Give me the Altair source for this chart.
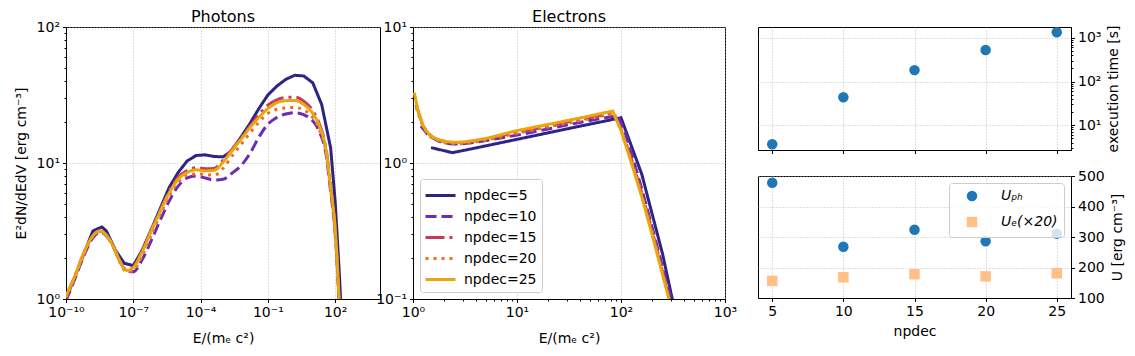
import altair as alt
import pandas as pd

FONT = "DejaVu Sans"

# ---------------- data ----------------
series_names = ["npdec=5", "npdec=10", "npdec=15", "npdec=20", "npdec=25"]
series_colors = ["#2d2586", "#6a2db5", "#c53a5d", "#f56c1e", "#e8a70f"]
series_dashes = [[1, 0], [11, 5], [19, 5, 3, 5], [3, 5], [1, 0]]

# Photons: log10(E/mec2) and log10(E^2 dN/dEdV)
ph5_logE = [-10.0, -9.4, -8.8, -8.6, -8.4, -8.2, -7.8, -7.4, -7.0, -6.6, -6.2, -5.8,
            -5.4, -5.0, -4.6, -4.2, -3.8, -3.4, -3.0, -2.6, -2.2, -1.8, -1.4, -1.0,
            -0.6, -0.2, 0.2, 0.6, 1.0, 1.4, 1.8, 2.0, 2.2, 2.4]
ph5_logy = [0.0, 0.25, 0.50, 0.515, 0.53, 0.5, 0.36, 0.262, 0.245, 0.36, 0.51, 0.665,
            0.82, 0.93, 1.015, 1.055, 1.06, 1.048, 1.045, 1.09, 1.19, 1.29, 1.40, 1.50,
            1.565, 1.615, 1.645, 1.64, 1.59, 1.43, 1.11, 0.72, 0.15, -0.6]

ph_logE = [-10.0, -9.6, -9.2, -8.8, -8.5, -8.2, -7.9, -7.6, -7.3, -7.0, -6.6, -6.2,
           -5.8, -5.4, -5.0, -4.6, -4.2, -3.8, -3.4, -3.0, -2.6, -2.2, -1.8, -1.4,
           -1.0, -0.6, -0.2, 0.2, 0.6, 1.0, 1.3, 1.6, 1.8, 2.0, 2.1, 2.2]
ph10_logy = [-0.01, 0.15, 0.32, 0.45, 0.49, 0.465, 0.39, 0.28, 0.205, 0.2, 0.29, 0.43,
             0.58, 0.72, 0.83, 0.89, 0.905, 0.89, 0.875, 0.88, 0.925, 0.98, 1.07, 1.19,
             1.285, 1.335, 1.36, 1.37, 1.355, 1.31, 1.23, 1.06, 0.79, 0.49, 0.23, -0.1]
ph15_logy = [0.02, 0.17, 0.34, 0.465, 0.50, 0.47, 0.39, 0.28, 0.215, 0.235, 0.355, 0.505,
             0.65, 0.79, 0.895, 0.945, 0.965, 0.958, 0.96, 1.02, 1.1, 1.185, 1.27, 1.355,
             1.425, 1.465, 1.482, 1.484, 1.455, 1.385, 1.285, 1.10, 0.83, 0.52, 0.25, -0.1]
ph20_logy = [0.01, 0.16, 0.33, 0.46, 0.495, 0.465, 0.385, 0.27, 0.2, 0.21, 0.32, 0.47,
             0.62, 0.76, 0.86, 0.91, 0.92, 0.915, 0.91, 0.96, 1.05, 1.135, 1.22, 1.30,
             1.365, 1.395, 1.405, 1.408, 1.39, 1.335, 1.245, 1.07, 0.80, 0.50, 0.24, -0.1]
ph25_logy = [0.02, 0.17, 0.34, 0.465, 0.50, 0.47, 0.39, 0.28, 0.21, 0.23, 0.35, 0.50,
             0.645, 0.78, 0.88, 0.93, 0.95, 0.942, 0.946, 1.005, 1.09, 1.175, 1.26, 1.335,
             1.40, 1.443, 1.458, 1.46, 1.43, 1.365, 1.27, 1.09, 0.82, 0.52, 0.25, -0.1]

# Electrons: log10(E/mec2) and log10(E^2 dN/dEdV)
el5_logE = [0.173, 0.38, 0.6, 0.8, 1.0, 1.2, 1.4, 1.6, 1.8, 2.0, 2.2, 2.4, 2.6]
el5_logy = [0.113, 0.076, 0.11, 0.142, 0.174, 0.206, 0.238, 0.27, 0.301, 0.333, -0.083, -0.67, -1.38]

el10_logE = [0.077, 0.15, 0.25, 0.35, 0.45, 0.6, 0.8, 1.0, 1.3, 1.6, 1.97, 2.05, 2.16, 2.25, 2.35, 2.48, 2.55]
el10_logy = [0.272, 0.2, 0.16, 0.142, 0.14, 0.152, 0.178, 0.205, 0.25, 0.298, 0.35, 0.2, -0.083, -0.33, -0.62, -1.0, -1.2]

el_mid_logE = [0.03, 0.07, 0.1, 0.15, 0.2, 0.27, 0.33, 0.4, 0.5, 0.7, 1.0, 1.3, 1.6, 1.93, 2.0, 2.1, 2.2, 2.3, 2.4, 2.5]
el15_logy = [0.43, 0.33, 0.27, 0.215, 0.185, 0.165, 0.155, 0.15, 0.152, 0.175, 0.225, 0.272, 0.318, 0.37, 0.25, 0.03, -0.22, -0.5, -0.8, -1.1]
el20_logy = [0.41, 0.32, 0.26, 0.205, 0.175, 0.155, 0.145, 0.14, 0.143, 0.167, 0.218, 0.265, 0.31, 0.362, 0.24, 0.02, -0.23, -0.51, -0.81, -1.11]

el25_logE = [0.0125, 0.05, 0.1, 0.15, 0.2, 0.25, 0.3, 0.38, 0.5, 0.7, 1.0, 1.3, 1.6, 1.92, 2.0, 2.1, 2.2, 2.3, 2.4, 2.5]
el25_logy = [0.517, 0.38, 0.27, 0.215, 0.185, 0.17, 0.16, 0.152, 0.155, 0.18, 0.238, 0.284, 0.33, 0.382, 0.24, 0.0, -0.25, -0.53, -0.82, -1.12]

# Right panels
npdec_vals = [5, 10, 15, 20, 25]
exec_time = [3.67, 43.6, 182, 524, 1330]
U_ph = [478, 268, 324, 286, 311]
U_e20 = [156, 168, 178, 171, 181]
U_labels = ["U\u209a\u2095", "U\u2091(\u00d720)"]
U_colors = ["#1f77b4", "#ffbf86"]


def frame(name, logE, logy):
    return pd.DataFrame({"series": name, "E": [10.0 ** v for v in logE], "y": [10.0 ** v for v in logy]})


ph_df = pd.concat([
    frame(series_names[0], ph5_logE, ph5_logy),
    frame(series_names[1], ph_logE, ph10_logy),
    frame(series_names[2], ph_logE, ph15_logy),
    frame(series_names[3], ph_logE, ph20_logy),
    frame(series_names[4], ph_logE, ph25_logy),
])
el_df = pd.concat([
    frame(series_names[0], el5_logE, el5_logy),
    frame(series_names[1], el10_logE, el10_logy),
    frame(series_names[2], el_mid_logE, el15_logy),
    frame(series_names[3], el_mid_logE, el20_logy),
    frame(series_names[4], el25_logE, el25_logy),
])
time_df = pd.DataFrame({"npdec": npdec_vals, "t": exec_time})
u_df = pd.concat([
    pd.DataFrame({"npdec": npdec_vals, "U": U_ph, "kind": U_labels[0]}),
    pd.DataFrame({"npdec": npdec_vals, "U": U_e20, "kind": U_labels[1]}),
])

# ---------------- axis helpers ----------------
SUP = str.maketrans("0123456789-", "\u2070\u00b9\u00b2\u00b3\u2074\u2075\u2076\u2077\u2078\u2079\u207b")


def sup(n):
    return str(n).translate(SUP)


IS_MAJOR = "abs(log(datum.value)/LN10 - round(log(datum.value)/LN10)) < 0.001"


def log_axis(major_exps, lo, hi, title, minors=True, **kw):
    majors = [10.0 ** e for e in major_exps]
    vals = list(majors)
    if minors:
        for k in range(-12, 5):
            for m in range(2, 10):
                v = m * 10.0 ** k
                if lo * 0.9999 <= v <= hi * 1.0001:
                    vals.append(v)
    vals = sorted(vals)
    expr = ""
    for e in major_exps:
        expr += f"abs(log(datum.value)/LN10 - ({e})) < 0.001 ? '10{sup(e)}' : "
    expr += "''"
    return alt.Axis(
        values=vals, labelExpr=expr, title=title,
        tickSize={"condition": {"test": IS_MAJOR, "value": 3.5}, "value": 2},
        gridOpacity={"condition": {"test": IS_MAJOR, "value": 1}, "value": 0},
        **kw,
    )


color_scale = alt.Scale(domain=series_names, range=series_colors)
dash_scale = alt.Scale(domain=series_names, range=series_dashes)

# ---------------- photons ----------------
ph_base = alt.Chart(ph_df).encode(
    x=alt.X("E:Q", scale=alt.Scale(type="log", domain=[1e-10, 1e4], nice=False),
            axis=log_axis([-10, -7, -4, -1, 2], 1e-10, 1e4, "E/(m\u2091 c\u00b2)", minors=False,
                          titlePadding=12)),
    y=alt.Y("y:Q", scale=alt.Scale(type="log", domain=[1, 100], nice=False),
            axis=log_axis([0, 1, 2], 1, 100, "E\u00b2dN/dEdV [erg cm\u207b\u00b3]", titlePadding=8)),
    color=alt.Color("series:N", scale=color_scale, legend=None),
    strokeDash=alt.StrokeDash("series:N", scale=dash_scale, legend=None),
)
photons = alt.layer(
    ph_base.transform_filter(alt.datum.series == series_names[0]).mark_line(
        strokeWidth=3, clip=True, interpolate="linear", strokeCap="butt"),
    ph_base.transform_filter(alt.datum.series != series_names[0]).mark_line(
        strokeWidth=3, clip=True, interpolate="monotone", strokeCap="butt"),
).properties(width=314, height=272, title="Photons")

# ---------------- electrons ----------------
leg_kw = dict(orient="bottom-left", offset=7, title=None, labelFontSize=14, labelFont=FONT,
              symbolType="M-1.5,0H1.5", symbolSize=400, symbolStrokeWidth=3, padding=5,
              symbolOffset=4, rowPadding=2, strokeColor="#cccccc", fillColor="white",
              cornerRadius=3, labelOffset=12, labelColor="black")
electrons = alt.Chart(el_df).mark_line(strokeWidth=3, clip=True, strokeCap="butt").encode(
    x=alt.X("E:Q", scale=alt.Scale(type="log", domain=[1, 1000], nice=False),
            axis=log_axis([0, 1, 2, 3], 1, 1000, "E/(m\u2091 c\u00b2)", titlePadding=12)),
    y=alt.Y("y:Q", scale=alt.Scale(type="log", domain=[0.1, 10], nice=False),
            axis=log_axis([-1, 0, 1], 0.1, 10, None)),
    color=alt.Color("series:N", scale=color_scale, legend=alt.Legend(**leg_kw)),
    strokeDash=alt.StrokeDash("series:N", scale=dash_scale, legend=alt.Legend(**leg_kw)),
).properties(width=312, height=272, title="Electrons")

# ---------------- right panels ----------------
x_right = alt.Scale(domain=[4, 26], nice=False, zero=False)
time_chart = alt.Chart(time_df).mark_point(filled=True, size=110, opacity=1, color="#1f77b4").encode(
    x=alt.X("npdec:Q", scale=x_right, axis=alt.Axis(values=npdec_vals, labels=False, title=None)),
    y=alt.Y("t:Q", scale=alt.Scale(type="log", domain=[2.72, 1760], nice=False),
            axis=log_axis([1, 2, 3], 2.72, 1760, "execution time [s]", orient="right",
                          titleAngle=270, titleBaseline="top", titlePadding=6)),
).properties(width=313, height=123)

u_leg = dict(orient="top-right", offset=7, title=None, labelFontSize=14, labelFont=FONT,
             labelFontStyle="italic", symbolSize=110, padding=6, rowPadding=8,
             strokeColor="#cccccc", fillColor="rgba(255,255,255,0.8)", cornerRadius=3,
             labelOffset=22, symbolOffset=10, labelColor="black", symbolOpacity=1)
u_chart = alt.Chart(u_df).mark_point(filled=True, size=110, opacity=1).encode(
    x=alt.X("npdec:Q", scale=x_right, axis=alt.Axis(values=npdec_vals, title="npdec", titlePadding=6)),
    y=alt.Y("U:Q", scale=alt.Scale(domain=[100, 500], nice=False, zero=False),
            axis=alt.Axis(values=[100, 200, 300, 400, 500], orient="right",
                          title="U [erg cm\u207b\u00b3]", titleAngle=270, titleBaseline="top",
                          titlePadding=6)),
    color=alt.Color("kind:N", scale=alt.Scale(domain=U_labels, range=U_colors), legend=alt.Legend(**u_leg)),
    shape=alt.Shape("kind:N", scale=alt.Scale(domain=U_labels, range=["circle", "square"]), legend=alt.Legend(**u_leg)),
).properties(width=313, height=122)

right = alt.vconcat(time_chart, u_chart, spacing=26, bounds="flush").resolve_scale(
    color="independent", shape="independent")

chart = alt.hconcat(photons, electrons, right, spacing=33, bounds="flush").resolve_scale(
    color="independent", strokeDash="independent", shape="independent"
).properties(
    padding={"left": 5, "top": 0, "right": 2, "bottom": 0}
).configure(font=FONT).configure_view(
    stroke="black", strokeWidth=1
).configure_axis(
    domainColor="black", domainWidth=1, tickColor="black", tickWidth=1, labelColor="black",
    titleColor="black", labelFontSize=14, titleFontSize=14, titleFontWeight="normal",
    labelFont=FONT, titleFont=FONT, tickSize=3.5, grid=True, gridColor="#b0b0b0",
    gridDash=[1, 2], gridWidth=0.8, labelPadding=3, labelFlush=False, labelOverlap=False,
    labelBound=False,
).configure_title(
    fontSize=16, fontWeight="normal", font=FONT, color="black", offset=-5
)

chart.save("out.html", embed_options={"renderer": "svg", "actions": False})
